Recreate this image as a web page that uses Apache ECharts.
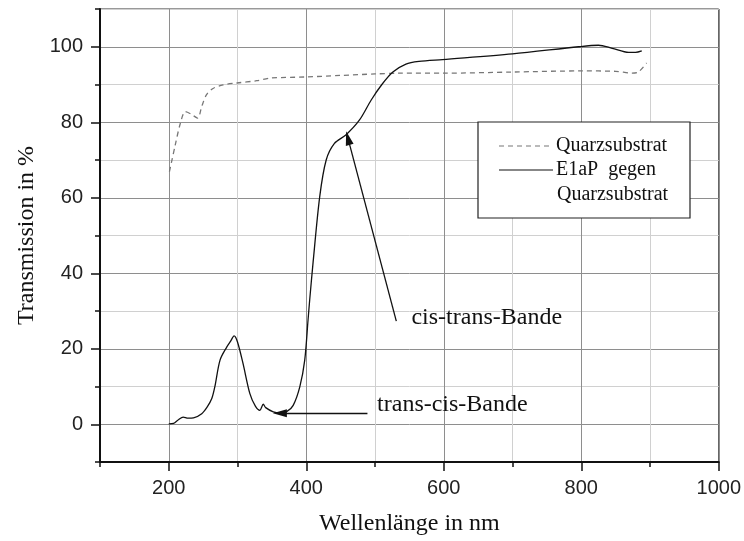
<!DOCTYPE html>
<html><head><meta charset="utf-8">
<script src="https://cdn.jsdelivr.net/npm/echarts@6/dist/echarts.min.js"></script>
<style>html,body{margin:0;padding:0;background:#fff}#c{width:744px;height:541px}</style>
</head><body><div id="c"></div>
<script>
// Data
var quarzNm  = [201,209,217,224,232,242,248,255,265,279,299,328,347,400,450,500,535,600,700,800,850,874,883,895];
var quarzVal = [66.9,73.6,79.8,82.8,82.2,81.1,84.2,87.3,89,89.9,90.4,91,91.7,92,92.4,92.8,93,93,93.3,93.6,93.5,93,93.3,95.7];
var e1apNm  = [200,207,214,221,228,236,248,256,262.6,267,274.6,284.5,290,295,300,308,318,326,332.6,337.5,341,352,361.6,372,381,390.6,397.8,402.6,405,410,419.6,429,441,458,477.5,494.5,510,526,545,564,598,700,796,825,845,869,879,888];
var e1apVal = [0.1,0.2,1.2,1.9,1.6,1.7,2.8,4.6,6.8,9.9,17,20.5,22,23.4,21.8,16.1,8.1,4.8,3.7,5.3,4.4,3.3,3.0,3.4,5,9.9,17,27.6,32.9,43,60.3,70,74.4,76.7,80.6,85.9,90,93.3,95.4,96.1,96.6,98.1,100,100.4,99.6,98.5,98.5,98.9];
var xMajorTicks = [200,400,600,800,1000];
var yMajorTicks = [0,20,40,60,80,100];
var seriesNames = ['Quarzsubstrat', 'E1aP  gegen', 'Quarzsubstrat'];
var annCisTrans = {text:'cis-trans-Bande', from:[531,27.3], to:[460.6,75.8], at:[553,28]};
var annTransCis = {text:'trans-cis-Bande', from:[489,2.9], to:[361.6,2.9], at:[503,5]};

function pairs(a,b){return a.map(function(v,i){return [v,b[i]];});}

var chart = echarts.init(document.getElementById('c'));
var serif = '"Liberation Serif", "Times New Roman", serif';
var sans = '"Liberation Sans", Arial, sans-serif';

var option = {
  animation:false,
  backgroundColor:'#fff',
  grid:{left:100,right:25,top:9,bottom:79,show:true,borderColor:'#333',borderWidth:1,containLabel:false},
  xAxis:[{
    type:'value',min:100,max:1000,interval:100,
    name:'Wellenlänge in nm',nameLocation:'middle',nameGap:50,
    nameTextStyle:{fontFamily:serif,fontSize:24,color:'#111'},
    axisLine:{show:true,onZero:false,lineStyle:{color:'#111',width:2}},
    axisTick:{show:true,length:5,lineStyle:{color:'#111',width:1.5}},
    axisLabel:{fontFamily:sans,fontSize:20,color:'#222',margin:16,
      formatter:function(v){return v%200===0?String(v):'';}},
    splitLine:{show:true,lineStyle:{color:['#d0d0d0','#8e8e8e'],width:1}}
  },{
    type:'value',min:100,max:1000,position:'bottom',
    axisLine:{show:false,onZero:false},
    axisTick:{show:true,length:9,customValues:xMajorTicks,lineStyle:{color:'#111',width:1.5}},
    axisLabel:{show:false},splitLine:{show:false}
  }],
  yAxis:[{
    type:'value',min:-10,max:110,interval:10,
    name:'Transmission in %',nameLocation:'middle',nameGap:61,
    nameTextStyle:{fontFamily:serif,fontSize:24,color:'#111'},
    axisLine:{show:true,onZero:false,lineStyle:{color:'#111',width:2}},
    axisTick:{show:true,length:5,lineStyle:{color:'#111',width:1.5}},
    axisLabel:{fontFamily:sans,fontSize:20,color:'#222',margin:17,
      formatter:function(v){return (v%20===0 && v>=0 && v<=100)?String(v):'';}},
    splitLine:{show:true,lineStyle:{color:['#d0d0d0','#8e8e8e'],width:1}}
  },{
    type:'value',min:-10,max:110,position:'left',
    axisLine:{show:false,onZero:false},
    axisTick:{show:true,length:9,customValues:yMajorTicks,lineStyle:{color:'#111',width:1.5}},
    axisLabel:{show:false},splitLine:{show:false}
  }],
  series:[{
    name:seriesNames[0],type:'line',data:pairs(quarzNm,quarzVal),smooth:0.3,showSymbol:false,
    lineStyle:{color:'#777',width:1.3,type:[5,4]}
  },{
    name:seriesNames[1],type:'line',data:pairs(e1apNm,e1apVal),smooth:0.3,showSymbol:false,
    lineStyle:{color:'#111',width:1.3},
    markLine:{silent:true,symbol:['none','triangle'],symbolSize:[8,14],
      lineStyle:{color:'#111',width:1.3,type:'solid'},label:{show:false},
      data:[[{coord:annCisTrans.from},{coord:annCisTrans.to}],
            [{coord:annTransCis.from},{coord:annTransCis.to}]]}
  }]
};
chart.setOption(option);

function px(p){return chart.convertToPixel({xAxisIndex:0,yAxisIndex:0},p);}
var a1 = px(annCisTrans.at), a2 = px(annTransCis.at);
var lx = 478, ly = 122;
chart.setOption({graphic:[
  {type:'text',left:a1[0],top:a1[1]-13,style:{text:annCisTrans.text,font:'24px '+serif,fill:'#111'}},
  {type:'text',left:a2[0],top:a2[1]-13,style:{text:annTransCis.text,font:'24px '+serif,fill:'#111'}},
  {type:'rect',shape:{x:lx,y:ly,width:212,height:96},style:{fill:'#fff',stroke:'#222',lineWidth:1.2}},
  {type:'line',shape:{x1:lx+21,y1:ly+24,x2:lx+75,y2:ly+24},style:{stroke:'#777',lineWidth:1.2,lineDash:[5,4]}},
  {type:'line',shape:{x1:lx+21,y1:ly+48,x2:lx+75,y2:ly+48},style:{stroke:'#111',lineWidth:1.2}},
  {type:'text',x:lx+78,y:ly+24,style:{text:seriesNames[0],font:'20px '+serif,fill:'#111',verticalAlign:'middle'}},
  {type:'text',x:lx+78,y:ly+48,style:{text:seriesNames[1],font:'20px '+serif,fill:'#111',verticalAlign:'middle'}},
  {type:'text',x:lx+79,y:ly+73,style:{text:seriesNames[2],font:'20px '+serif,fill:'#111',verticalAlign:'middle'}}
]});
</script></body></html>
